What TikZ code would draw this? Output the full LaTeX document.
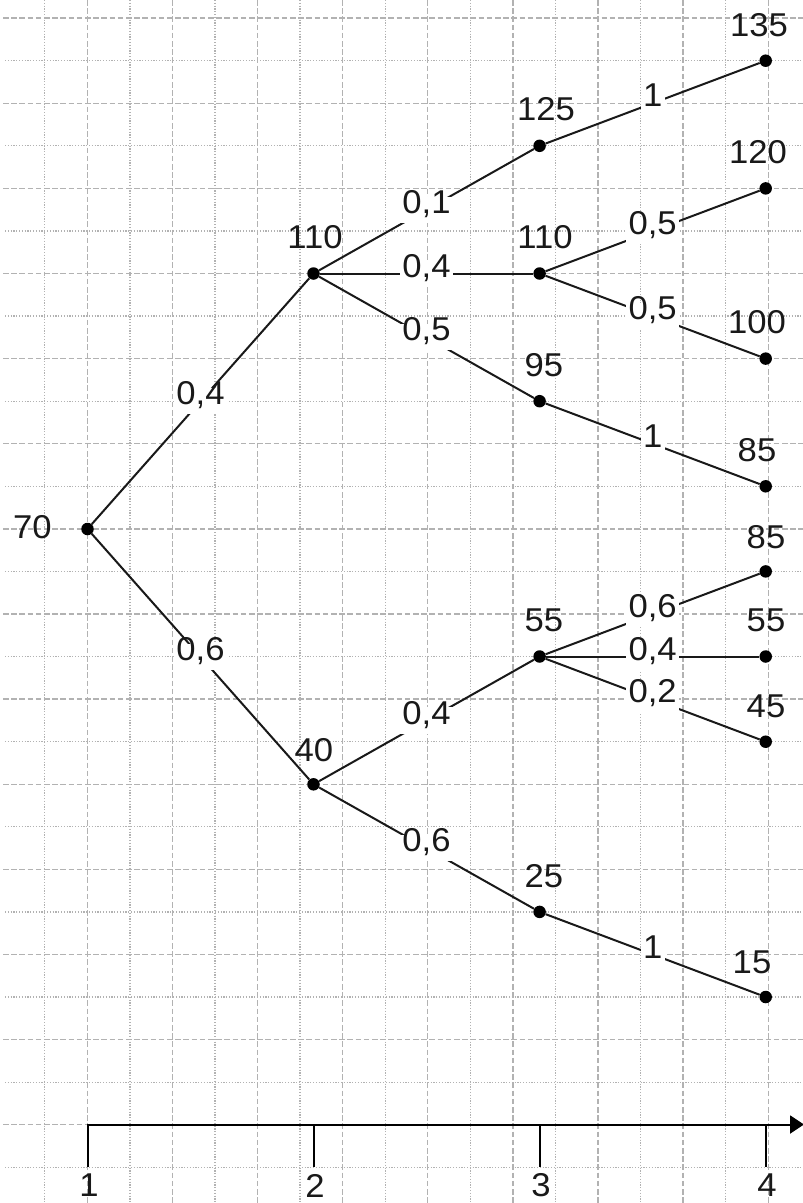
\documentclass[tikz,border=0pt]{standalone}
\usepackage{fontspec}
\setmainfont{Liberation Sans}[FakeStretch=1.05]
\usetikzlibrary{arrows.meta}
\definecolor{gridc}{RGB}{178,178,178}
\definecolor{inkc}{RGB}{25,25,25}
\newcommand{\lblfont}{\fontsize{33}{40}\selectfont}
\begin{document}
\begin{tikzpicture}[x=1pt,y=-1pt,
  gmaj/.style={draw=gridc, line width=1.3pt, dash pattern=on 5.5pt off 2.7pt},
  gmin/.style={draw=gridc, line width=1.3pt, dash pattern=on 1.2pt off 1.6pt},
  dot/.style={circle, fill=black, inner sep=0pt, minimum size=12.5pt},
  val/.style={font=\lblfont, inner sep=0pt, text=inkc},
  plab/.style={font=\lblfont, fill=white, text=inkc, text height=0.72em, text depth=0pt, inner xsep=2.5pt, inner ysep=9.5pt},
  branch/.style={draw=inkc, line width=2pt},
  axisline/.style={draw=black, line width=2pt}]
\useasboundingbox (0,0) rectangle (803,1203);
\fill[white] (0,0) rectangle (803,1203);
% grid
\foreach \k in {0,2,...,16} \draw[gmaj] ({87.3+42.56*\k},0) -- ({87.3+42.56*\k},1203);
\foreach \k in {-1,1,...,15} \draw[gmin] ({87.3+42.56*\k},0) -- ({87.3+42.56*\k},1203);
\foreach \k in {-6,-4,...,20} \draw[gmaj] (3,{273.5+42.56*\k}) -- (803,{273.5+42.56*\k});
\foreach \k in {-5,-3,...,21} \draw[gmin] (5,{273.5+42.56*\k}) -- (803,{273.5+42.56*\k});
% tree nodes
\node[dot] (A) at (87.5,529) {};
\node[dot] (B) at (313.5,273.5) {};
\node[dot] (C) at (313.5,784.3) {};
\node[dot] (D) at (539.6,145.8) {};
\node[dot] (E) at (539.6,273.5) {};
\node[dot] (F) at (539.6,401.2) {};
\node[dot] (G) at (539.6,656.5) {};
\node[dot] (H) at (539.6,911.9) {};
\node[dot] (I) at (765.7,60.7) {};
\node[dot] (J) at (765.7,188.4) {};
\node[dot] (K) at (765.7,358.6) {};
\node[dot] (L) at (765.7,486.3) {};
\node[dot] (M) at (765.7,571.4) {};
\node[dot] (N) at (765.7,656.5) {};
\node[dot] (O) at (765.7,741.7) {};
\node[dot] (P) at (765.7,997) {};
% branches
\draw[branch] (A) -- node[plab]{0,4} (B);
\draw[branch] (A) -- node[plab]{0,6} (C);
\draw[branch] (B) -- node[plab]{0,1} (D);
\draw[branch] (B) -- node[plab]{0,4} (E);
\draw[branch] (B) -- node[plab]{0,5} (F);
\draw[branch] (C) -- node[plab]{0,4} (G);
\draw[branch] (C) -- node[plab]{0,6} (H);
\draw[branch] (D) -- node[plab]{1} (I);
\draw[branch] (E) -- node[plab]{0,5} (J);
\draw[branch] (E) -- node[plab]{0,5} (K);
\draw[branch] (F) -- node[plab]{1} (L);
\draw[branch] (G) -- node[plab]{0,6} (M);
\draw[branch] (G) -- node[plab]{0,4} (N);
\draw[branch] (G) -- node[plab]{0,2} (O);
\draw[branch] (H) -- node[plab]{1} (P);
% value labels
\node[val] (vA) at (32.5,527) {70};
\node[val] (vB) at (315,237.5) {110};
\node[val] (vC) at (314,750) {40};
\node[val] (vD) at (546,109) {125};
\node[val] (vE) at (545,237.5) {110};
\node[val] (vF) at (544,365) {95};
\node[val] (vG) at (544,620) {55};
\node[val] (vH) at (544,876) {25};
\node[val] (vI) at (759,25) {135};
\node[val] (vJ) at (758,152.5) {120};
\node[val] (vK) at (757,322) {100};
\node[val] (vL) at (757,450) {85};
\node[val] (vM) at (766,537) {85};
\node[val] (vN) at (766,620) {55};
\node[val] (vO) at (766,706) {45};
\node[val] (vP) at (752,962) {15};
% time axis
\coordinate (T1) at (87.5,1124.5);
\coordinate (T2) at (313.5,1124.5);
\coordinate (T3) at (539.6,1124.5);
\coordinate (T4) at (765.7,1124.5);
\coordinate (Q1) at (87.5,1167);
\coordinate (Q2) at (313.5,1167);
\coordinate (Q3) at (539.6,1167);
\coordinate (Q4) at (765.7,1167);
\coordinate (AE) at (804,1124.5);
\draw[axisline,-{Triangle[length=14pt,width=18pt]}] (Q1) -- (T1) -- (AE);
\draw[axisline] (T2) -- (Q2);
\draw[axisline] (T3) -- (Q3);
\draw[axisline] (T4) -- (Q4);
\node[val] (t1) at (89,1185.5) {1};
\node[val] (t2) at (315,1185.5) {2};
\node[val] (t3) at (541,1185.5) {3};
\node[val] (t4) at (767,1185.5) {4};
\end{tikzpicture}
\end{document}
